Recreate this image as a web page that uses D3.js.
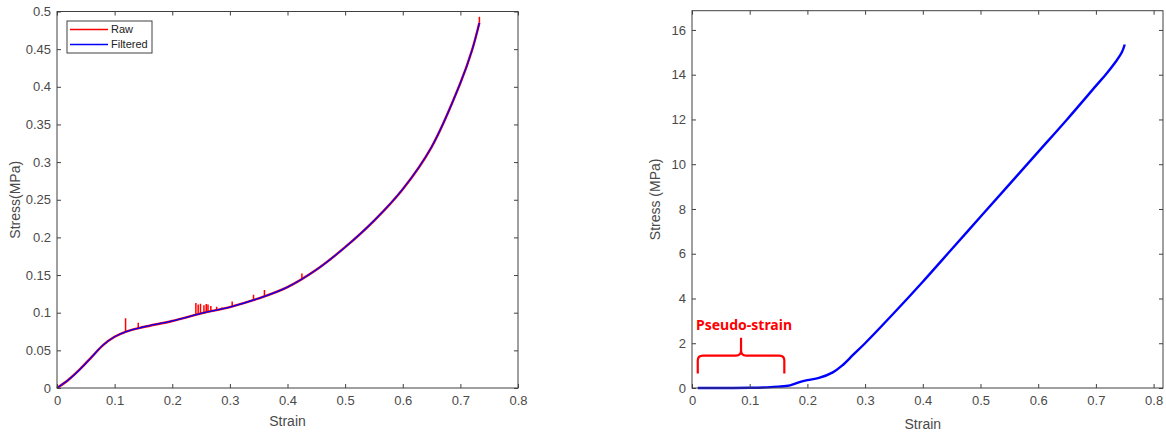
<!DOCTYPE html>
<meta charset="utf-8">
<style>
  body { margin: 0; padding: 0; background: white; }
  svg { display: block; background: white; }
  .tick text { font-family: "Liberation Sans", Arial, sans-serif; font-size: 13px; fill: #4a4a4a; }
  .tick line { stroke: #404040; }
  .lbl { font-family: "Liberation Sans", Arial, sans-serif; font-size: 14px; fill: #4a4a4a; }
</style>
<script src="https://cdn.jsdelivr.net/npm/d3@7"></script>
<svg id="vis" width="1166" height="434"></svg>
<script>

// left panel: filtered curve
const leftStrain   = [0, 0.02, 0.04, 0.06, 0.08, 0.10, 0.12, 0.15, 0.20, 0.25, 0.30, 0.35, 0.40, 0.45, 0.50, 0.55, 0.60, 0.65, 0.70, 0.72, 0.733];
const leftFiltered = [0, 0.011, 0.025, 0.041, 0.057, 0.068, 0.075, 0.081, 0.089, 0.099, 0.1075, 0.119, 0.134, 0.157, 0.187, 0.222, 0.264, 0.320, 0.405, 0.448, 0.485];
// left panel: spikes in the raw signal (strain, peak stress)
const spikeStrain = [0.119, 0.141, 0.241, 0.245, 0.249, 0.255, 0.259, 0.262, 0.267, 0.277, 0.286, 0.304, 0.341, 0.360, 0.425, 0.733];
const spikePeak   = [0.0926, 0.0868, 0.113, 0.111, 0.112, 0.110, 0.1115, 0.111, 0.109, 0.108, 0.107, 0.1148, 0.1237, 0.130, 0.152, 0.493];
const leftXTicks = [0, 0.1, 0.2, 0.3, 0.4, 0.5, 0.6, 0.7, 0.8];
const leftYTicks = [0, 0.05, 0.1, 0.15, 0.2, 0.25, 0.3, 0.35, 0.4, 0.45, 0.5];
const legendNames = ["Raw", "Filtered"];
const legendColors = ["#ff0000", "#0000ff"];

// right panel
const rightStrain = [0.01, 0.05, 0.10, 0.13, 0.15, 0.17, 0.185, 0.20, 0.22, 0.244, 0.26, 0.28, 0.30, 0.35, 0.40, 0.45, 0.50, 0.55, 0.60, 0.65, 0.70, 0.72, 0.735, 0.745, 0.75];
const rightStress = [0.0, 0.0, 0.01, 0.03, 0.06, 0.12, 0.25, 0.35, 0.45, 0.70, 1.00, 1.50, 2.00, 3.35, 4.75, 6.20, 7.65, 9.10, 10.55, 12.00, 13.50, 14.10, 14.60, 15.00, 15.35];
const rightXTicks = [0, 0.1, 0.2, 0.3, 0.4, 0.5, 0.6, 0.7, 0.8];
const rightYTicks = [0, 2, 4, 6, 8, 10, 12, 14, 16];
const annotationText = "Pseudo-strain";

var svg = d3.select("#vis");

function drawFrame(g, x, y, xt, yt, yfmt, w, h) {
  g.append("g").attr("transform", "translate(0," + h + ")")
    .call(d3.axisBottom(x).tickValues(xt).tickFormat(d3.format("")).tickSize(-4).tickPadding(8))
    .call(a => a.select(".domain").remove());
  g.append("g")
    .call(d3.axisTop(x).tickValues(xt).tickFormat("").tickSize(-4))
    .call(a => a.select(".domain").remove());
  g.append("g")
    .call(d3.axisLeft(y).tickValues(yt).tickFormat(yfmt).tickSize(-4).tickPadding(6))
    .call(a => a.select(".domain").remove());
  g.append("g").attr("transform", "translate(" + w + ",0)")
    .call(d3.axisRight(y).tickValues(yt).tickFormat("").tickSize(-4))
    .call(a => a.select(".domain").remove());
  g.append("rect").attr("width", w).attr("height", h)
    .attr("fill", "none").attr("stroke", "#404040").attr("stroke-width", 1);
}

// ---------- left chart ----------
var L = {left: 57, top: 11.5, right: 518, bottom: 388};
var lw = L.right - L.left, lh = L.bottom - L.top;
var xL = d3.scaleLinear().domain([0, 0.8]).range([0, lw]);
var yL = d3.scaleLinear().domain([0, 0.5]).range([lh, 0]);
var gL = svg.append("g").attr("transform", "translate(" + L.left + "," + L.top + ")");

var filtered = leftStrain.map((s, i) => [s, leftFiltered[i]]);
var base = d3.scaleLinear().domain(leftStrain).range(leftFiltered);

var smooth = d3.line().x(d => xL(d[0])).y(d => yL(d[1])).curve(d3.curveCatmullRom.alpha(0.5));

// raw: same trace plus the spikes
gL.append("path").datum(filtered)
  .attr("d", smooth)
  .attr("fill", "none").attr("stroke", "#ff0000").attr("stroke-width", 2.4);
var spikes = d3.path();
spikeStrain.forEach((s, i) => {
  spikes.moveTo(xL(s), yL(base(s)));
  spikes.lineTo(xL(s), yL(spikePeak[i]));
});
gL.append("path").attr("d", spikes.toString())
  .attr("fill", "none").attr("stroke", "#ff0000").attr("stroke-width", 1.5);

gL.append("path").datum(filtered)
  .attr("d", smooth)
  .attr("fill", "none").attr("stroke", "#0000ff").attr("stroke-width", 1.3);

drawFrame(gL, xL, yL, leftXTicks, leftYTicks, d3.format(""), lw, lh);

// legend
var lg = svg.append("g").attr("transform", "translate(67,21)");
lg.append("rect").attr("width", 85).attr("height", 32)
  .attr("fill", "white").attr("stroke", "#404040").attr("stroke-width", 1);
legendNames.forEach((n, i) => {
  lg.append("line").attr("x1", 3).attr("x2", 41).attr("y1", 8.5 + i * 15).attr("y2", 8.5 + i * 15)
    .attr("stroke", legendColors[i]).attr("stroke-width", 1.5);
  lg.append("text").attr("x", 44).attr("y", 8.5 + i * 15).attr("dy", "0.35em")
    .attr("font-family", "Liberation Sans, Arial, sans-serif").attr("font-size", 11)
    .attr("fill", "#222").text(n);
});

svg.append("text").attr("class", "lbl")
  .attr("transform", "translate(15," + (L.top + lh / 2) + ") rotate(-90)")
  .attr("text-anchor", "middle").attr("dy", "0.35em").text("Stress(MPa)");
svg.append("text").attr("class", "lbl")
  .attr("x", L.left + lw / 2).attr("y", 421).attr("text-anchor", "middle").attr("dy", "0.35em")
  .text("Strain");

// ---------- right chart ----------
var R = {left: 692, top: 10.7, right: 1163, bottom: 388};
var rw = R.right - R.left, rh = R.bottom - R.top;
var xR = d3.scaleLinear().domain([0, 0.8163]).range([0, rw]);
var yR = d3.scaleLinear().domain([0, 16.86]).range([rh, 0]);
var gR = svg.append("g").attr("transform", "translate(" + R.left + "," + R.top + ")");

gR.append("path").datum(rightStrain.map((s, i) => [s, rightStress[i]]))
  .attr("d", d3.line().x(d => xR(d[0])).y(d => yR(d[1])).curve(d3.curveCatmullRom.alpha(0.5)))
  .attr("fill", "none").attr("stroke", "#0000ff").attr("stroke-width", 2.4);

drawFrame(gR, xR, yR, rightXTicks, rightYTicks, d3.format("d"), rw, rh);

// pseudo-strain brace
var bx0 = xR(0.01), bx1 = xR(0.16), bm = xR(0.085);
var by0 = yR(0.65), byl = yR(1.45), byp = yR(2.25), r = 5;
var brace = d3.path();
brace.moveTo(bx0, by0);
brace.lineTo(bx0, byl + r);
brace.quadraticCurveTo(bx0, byl, bx0 + r, byl);
brace.lineTo(bm - r, byl);
brace.quadraticCurveTo(bm, byl, bm, byl - r);
brace.lineTo(bm, byp);
brace.moveTo(bm, byl - r);
brace.quadraticCurveTo(bm, byl, bm + r, byl);
brace.lineTo(bx1 - r, byl);
brace.quadraticCurveTo(bx1, byl, bx1, byl + r);
brace.lineTo(bx1, by0);
gR.append("path").attr("d", brace.toString())
  .attr("fill", "none").attr("stroke", "#ff0000").attr("stroke-width", 2.2);
gR.append("text").attr("x", bm + 3).attr("y", yR(2.6)).attr("text-anchor", "middle")
  .attr("font-family", "Noto Sans, Open Sans, sans-serif").attr("font-weight", "bold")
  .attr("font-size", 14).attr("fill", "#ff0000")
  .attr("textLength", 96).attr("lengthAdjust", "spacingAndGlyphs")
  .text(annotationText);

svg.append("text").attr("class", "lbl")
  .attr("transform", "translate(655," + (R.top + rh / 2) + ") rotate(-90)")
  .attr("text-anchor", "middle").attr("dy", "0.35em").text("Stress (MPa)");
svg.append("text").attr("class", "lbl")
  .attr("x", R.left + xR(0.4)).attr("y", 424).attr("text-anchor", "middle").attr("dy", "0.35em")
  .text("Strain");

</script>
